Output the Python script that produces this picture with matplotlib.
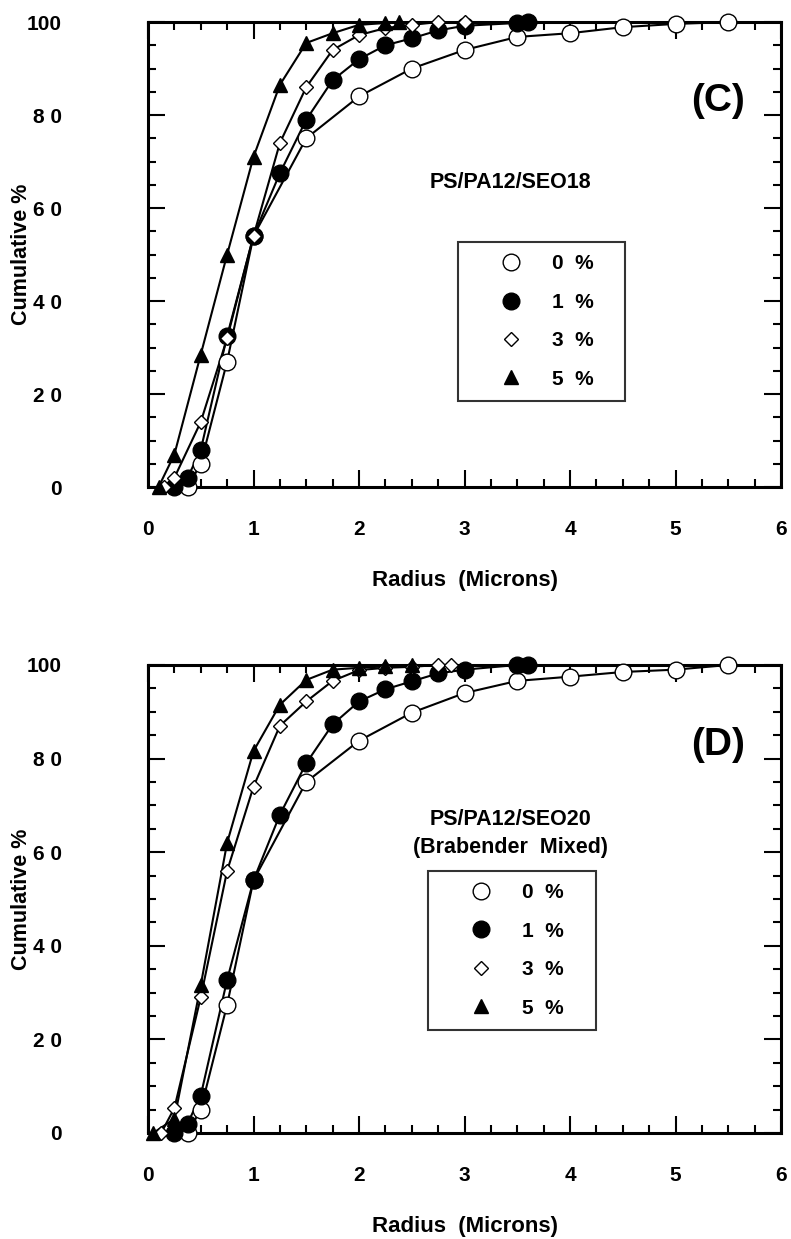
import matplotlib.pyplot as plt
from matplotlib.lines import Line2D
from matplotlib.ticker import MultipleLocator, FixedLocator

plt.rcParams['font.family'] = ['Liberation Sans', 'DejaVu Sans']
plt.rcParams['font.weight'] = 'bold'

# panel C: PS/PA12/SEO18
c0_x = [0.375, 0.5, 0.75, 1.0, 1.5, 2.0, 2.5, 3.0, 3.5, 4.0, 4.5, 5.0, 5.5]
c0_y = [0, 5, 27, 54, 75, 84, 90, 94, 96.8, 97.6, 98.9, 99.6, 100]
c1_x = [0.25, 0.375, 0.5, 0.75, 1.0, 1.25, 1.5, 1.75, 2.0, 2.25, 2.5, 2.75, 3.0, 3.5, 3.6]
c1_y = [0, 2, 8, 32.5, 54, 67.5, 79, 87.5, 92, 95, 96.5, 98.2, 99.2, 99.8, 100]
c3_x = [0.15, 0.25, 0.5, 0.75, 1.0, 1.25, 1.5, 1.75, 2.0, 2.25, 2.5, 2.75, 3.0]
c3_y = [0, 2, 14, 32, 54, 74, 86, 94, 97.2, 98.7, 99.4, 100, 100]
c5_x = [0.1, 0.25, 0.5, 0.75, 1.0, 1.25, 1.5, 1.75, 2.0, 2.25, 2.375]
c5_y = [0, 7, 28.5, 50, 71, 86.5, 95.5, 97.6, 99.4, 99.8, 100]

# panel D: PS/PA12/SEO20 (Brabender Mixed)
d0_x = [0.375, 0.5, 0.75, 1.0, 1.5, 2.0, 2.5, 3.0, 3.5, 4.0, 4.5, 5.0, 5.5]
d0_y = [0, 5, 27.4, 54, 75, 83.8, 89.8, 94, 96.6, 97.5, 98.5, 99, 100]
d1_x = [0.25, 0.375, 0.5, 0.75, 1.0, 1.25, 1.5, 1.75, 2.0, 2.25, 2.5, 2.75, 3.0, 3.5, 3.6]
d1_y = [0, 2, 8, 32.7, 54, 68, 79, 87.3, 92.2, 94.8, 96.5, 98.2, 99, 100, 100]
d3_x = [0.125, 0.25, 0.5, 0.75, 1.0, 1.25, 1.5, 1.75, 2.0, 2.25, 2.5, 2.75, 2.875]
d3_y = [0, 5.3, 29, 56, 74, 87, 92.2, 96.6, 98.9, 99.4, 99.6, 100, 100]
d5_x = [0.05, 0.25, 0.5, 0.75, 1.0, 1.25, 1.5, 1.75, 2.0, 2.25, 2.5]
d5_y = [0, 3, 31.6, 62, 81.6, 91.5, 96.8, 99, 99.4, 99.7, 100]

labels = ['0  %', '1  %', '3  %', '5  %']
yticks = [0, 20, 40, 60, 80, 100]
ytick_labels = ['0', '2 0', '4 0', '6 0', '8 0', '100']

styles = [
    dict(marker='o', ms=12, mfc='white', mec='black', mew=1.0),
    dict(marker='o', ms=12, mfc='black', mec='black', mew=1.0),
    dict(marker='D', ms=7.5, mfc='white', mec='black', mew=1.0),
    dict(marker='^', ms=10, mfc='black', mec='black', mew=1.0),
]

fig = plt.figure(figsize=(7.91, 12.39), dpi=100)
ax1 = fig.add_axes([0.1871, 0.6069, 0.8003, 0.3753])
ax2 = fig.add_axes([0.1871, 0.0856, 0.8003, 0.3777])


def draw_panel(ax, series, tag, titles, leg_box):
    for (x, y), st in zip(series, styles):
        ax.plot(x, y, '-', color='black', lw=1.5, clip_on=False, zorder=2)
    for (x, y), st in zip(series, styles):
        ax.plot(x, y, ls='none', clip_on=False, zorder=3, **st)
    ax.set_xlim(0, 6)
    ax.set_ylim(0, 100)
    ax.xaxis.set_major_locator(MultipleLocator(1))
    ax.xaxis.set_minor_locator(MultipleLocator(0.25))
    ax.yaxis.set_major_locator(FixedLocator(yticks))
    ax.set_yticklabels(ytick_labels)
    ax.yaxis.set_minor_locator(MultipleLocator(5))
    ax.tick_params(which='both', direction='in', top=True, right=True, width=1.5)
    ax.tick_params(which='major', length=12)
    ax.tick_params(which='minor', length=6)
    ax.tick_params(axis='x', which='major', pad=24, labelsize=15)
    ax.tick_params(axis='y', which='major', pad=62, labelsize=15)
    for sp in ax.spines.values():
        sp.set_linewidth(2.2)
    ax.set_xlabel('Radius  (Microns)', fontsize=16, fontweight='bold', labelpad=22)
    ax.set_ylabel('Cumulative %', fontsize=15.5, fontweight='bold')
    ax.yaxis.set_label_coords(-0.184, 0.5)
    ax.text(0.9, 0.83, tag, transform=ax.transAxes, fontsize=28,
            fontweight='bold', ha='center', va='center')
    for txt, ty in titles:
        ax.text(0.573, ty, txt, transform=ax.transAxes, fontsize=15.5,
                fontweight='bold', ha='center', va='center')
    handles = [Line2D([], [], ls='none', **st) for st in styles]
    leg = ax.legend(handles, labels, loc='upper left', bbox_to_anchor=leg_box,
                    mode='expand', fontsize=15, frameon=True, fancybox=False,
                    borderpad=0.6, handlelength=3.9, handletextpad=0.0,
                    labelspacing=0.93, borderaxespad=0)
    leg.get_frame().set_edgecolor('black')
    leg.get_frame().set_linewidth(1.5)
    for t in leg.get_texts():
        t.set_fontweight('bold')


draw_panel(ax1, [(c0_x, c0_y), (c1_x, c1_y), (c3_x, c3_y), (c5_x, c5_y)],
           '(C)', [('PS/PA12/SEO18', 0.654)], (0.49, 0.196, 0.264, 0.331))
draw_panel(ax2, [(d0_x, d0_y), (d1_x, d1_y), (d3_x, d3_y), (d5_x, d5_y)],
           '(D)', [('PS/PA12/SEO20', 0.669), ('(Brabender  Mixed)', 0.609)],
           (0.442, 0.209, 0.266, 0.351))

fig.savefig('out.png', dpi=100)
